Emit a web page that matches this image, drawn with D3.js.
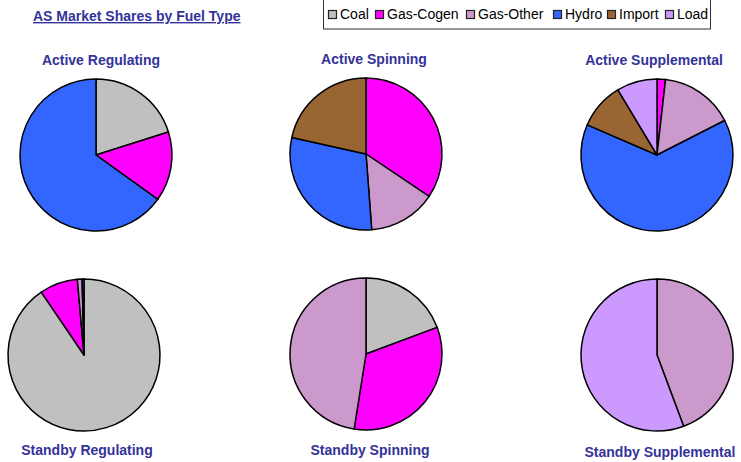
<!DOCTYPE html>
<html>
<head>
<meta charset="utf-8">
<script src="https://cdn.jsdelivr.net/npm/d3@7"></script>
<style>
  body { margin: 0; background: #fff; }
  svg { display: block; font-family: "Liberation Sans", Arial, sans-serif; }
</style>
</head>
<body>
<div id="chart"></div>
<script>
// Fuel types and their colours
const fuels = ["Coal", "Gas-Cogen", "Gas-Other", "Hydro", "Import", "Load"];
const fuelColors = ["#c0c0c0", "#ff00ff", "#cc99cc", "#3366ff", "#996633", "#cc99ff"];

// Market shares (%) per service, in fuel order
const activeRegulating    = [20.1, 14.8, 0, 65.1, 0, 0];
const activeSpinning      = [0, 34.4, 14.4, 29.7, 21.5, 0];
const activeSupplemental  = [0, 1.8, 15.7, 64.0, 9.9, 8.6];
const standbyRegulating   = [90.5, 8.1, 1.0, 0.4, 0, 0];
const standbySpinning     = [19.3, 33.2, 47.5, 0, 0, 0];
const standbySupplemental = [0, 0, 44.3, 0, 0, 55.7];

const chartTitles = ["Active Regulating", "Active Spinning", "Active Supplemental",
                     "Standby Regulating", "Standby Spinning", "Standby Supplemental"];
const chartValues = [activeRegulating, activeSpinning, activeSupplemental,
                     standbyRegulating, standbySpinning, standbySupplemental];

// Dimensions
const width = 741;
const height = 462;
const radius = 76;
const titleColor = "#333399";

// Layout of each pie (centre) and its label
const layout = [
  { cx: 96,  cy: 155, tx: 101, ty: 65 },
  { cx: 366, cy: 154, tx: 374, ty: 64 },
  { cx: 657, cy: 155, tx: 654, ty: 65 },
  { cx: 84,  cy: 355, tx: 87,  ty: 455 },
  { cx: 366, cy: 354, tx: 370, ty: 455 },
  { cx: 657, cy: 355, tx: 660, ty: 457 }
];

const color = d3.scaleOrdinal().domain(fuels).range(fuelColors);

const svg = d3.select("#chart")
  .append("svg")
    .attr("width", width)
    .attr("height", height);

// Main title
svg.append("text")
    .attr("x", 33)
    .attr("y", 21)
    .attr("fill", titleColor)
    .attr("font-size", 14)
    .attr("font-weight", "bold")
    .attr("text-decoration", "underline")
    .text("AS Market Shares by Fuel Type");

// Legend
const legend = svg.append("g");
legend.append("rect")
    .attr("x", 323.5)
    .attr("y", -1)
    .attr("width", 387)
    .attr("height", 30)
    .attr("fill", "#fff")
    .attr("stroke", "#333");

const legendX = [328, 375, 466, 553, 607, 665];
const legendItems = legend.selectAll(".legend-item")
  .data(fuels)
  .join("g")
    .attr("class", "legend-item")
    .attr("transform", (d, i) => `translate(${legendX[i]}, 0)`);
legendItems.append("rect")
    .attr("x", 0.5)
    .attr("y", 10.5)
    .attr("width", 8)
    .attr("height", 8)
    .attr("fill", d => color(d))
    .attr("stroke", "#222")
    .attr("stroke-width", 1.2);
legendItems.append("text")
    .attr("x", 12)
    .attr("y", 19)
    .attr("font-size", 14)
    .attr("fill", "#000")
    .text(d => d);

// Pies
const pie = d3.pie()
  .sort(null)
  .value(d => d.value);
const arc = d3.arc()
  .innerRadius(0)
  .outerRadius(radius);

chartValues.forEach((values, i) => {
  const pos = layout[i];
  const rows = values
    .map((v, j) => ({ fuel: fuels[j], value: v }))
    .filter(d => d.value > 0);

  const g = svg.append("g")
      .attr("transform", `translate(${pos.cx}, ${pos.cy})`);

  g.selectAll("path")
    .data(pie(rows))
    .join("path")
      .attr("d", arc)
      .attr("fill", d => color(d.data.fuel))
      .attr("stroke", "#000")
      .attr("stroke-width", 1.5)
      .attr("stroke-linejoin", "round");

  svg.append("text")
      .attr("x", pos.tx)
      .attr("y", pos.ty)
      .attr("text-anchor", "middle")
      .attr("fill", titleColor)
      .attr("font-size", 14)
      .attr("font-weight", "bold")
      .text(chartTitles[i]);
});
</script>
</body>
</html>
